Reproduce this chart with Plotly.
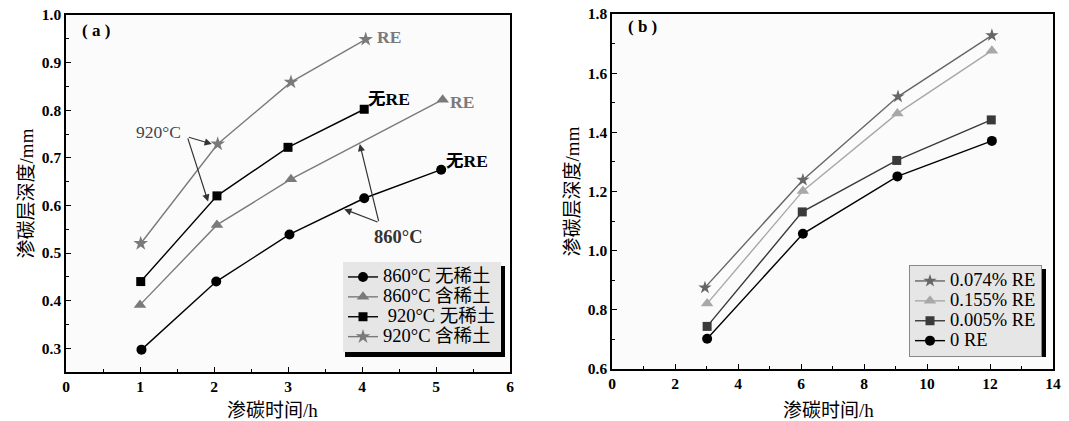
import plotly.graph_objects as go

# ---------------- Data: panel (a) ----------------
a_x_860_nore = [1.02, 2.03, 3.02, 4.03, 5.07]
a_y_860_nore = [0.297, 0.440, 0.539, 0.615, 0.675]
a_x_860_re = [1.00, 2.04, 3.04, 5.09]
a_y_860_re = [0.391, 0.559, 0.655, 0.822]
a_x_920_nore = [1.01, 2.04, 3.00, 4.03]
a_y_920_nore = [0.440, 0.620, 0.722, 0.802]
a_x_920_re = [1.01, 2.05, 3.04, 4.05]
a_y_920_re = [0.520, 0.729, 0.859, 0.949]
a_names = ["860°C 无稀土", "860°C 含稀土", " 920°C 无稀土", "920°C 含稀土"]

# ---------------- Data: panel (b) ----------------
b_x_074 = [2.95, 6.06, 9.08, 12.06]
b_y_074 = [0.875, 1.239, 1.521, 1.728]
b_x_155 = [3.02, 6.06, 9.06, 12.06]
b_y_155 = [0.821, 1.202, 1.464, 1.676]
b_x_005 = [3.02, 6.04, 9.04, 12.04]
b_y_005 = [0.744, 1.131, 1.305, 1.442]
b_x_0 = [3.02, 6.06, 9.06, 12.06]
b_y_0 = [0.702, 1.057, 1.251, 1.371]
b_names = ["0.074% RE", "0.155% RE", "0.005% RE", "0 RE"]

FONT = "Liberation Serif, Times New Roman, Noto Sans CJK SC, serif"
BLACK = "#000000"
GRAY = "#7a7a7a"

fig = go.Figure()

def big(name):
    return '<span style="font-size:18.5px">' + name + '</span>'

def add(x, y, name, color, symbol, size, xa, ya, legend):
    fig.add_trace(go.Scatter(
        x=x, y=y, name=big(name), mode="lines+markers",
        line=dict(color=color, width=1.4),
        marker=dict(color=color, symbol=symbol, size=size),
        xaxis=xa, yaxis=ya, legend=legend))

add(a_x_860_nore, a_y_860_nore, a_names[0], BLACK, "circle", 10, "x", "y", "legend")
add(a_x_860_re, a_y_860_re, a_names[1], GRAY, "triangle-up", 11, "x", "y", "legend")
add(a_x_920_nore, a_y_920_nore, a_names[2], BLACK, "square", 9, "x", "y", "legend")
add(a_x_920_re, a_y_920_re, a_names[3], GRAY, "star", 11, "x", "y", "legend")

add(b_x_074, b_y_074, b_names[0], "#666666", "star", 10, "x2", "y2", "legend2")
add(b_x_155, b_y_155, b_names[1], "#a8a8a8", "triangle-up", 11, "x2", "y2", "legend2")
add(b_x_005, b_y_005, b_names[2], "#3a3a3a", "square", 9, "x2", "y2", "legend2")
add(b_x_0, b_y_0, b_names[3], BLACK, "circle", 10, "x2", "y2", "legend2")

W, H = 1069, 421
def px(x):
    return x / W
def py(y):
    return 1 - y / H

tickfont = dict(family=FONT, size=15.5, color="#000", weight="bold")
titlefont = dict(family=FONT, size=19, color="#000")
axcommon = dict(showline=True, linecolor="#000", linewidth=1.5, mirror=True,
                ticks="inside", ticklen=5, tickwidth=1.2, tickcolor="#000",
                showgrid=False, zeroline=False, tickfont=tickfont)

fig.update_layout(
    width=W, height=H, margin=dict(l=0, r=0, t=0, b=0),
    paper_bgcolor="white", plot_bgcolor="#fbfbfb",
    font=dict(family=FONT, size=15, color="#000"),
    xaxis=dict(domain=[px(66), px(510)], range=[0, 6], dtick=1,
               minor=dict(dtick=0.5, ticks="inside", ticklen=3, tickcolor="#000"),
               anchor="y", automargin=False, **axcommon),
    yaxis=dict(domain=[py(372), py(15)], range=[0.25, 1.0], dtick=0.1, tickformat=".1f",
               minor=dict(dtick=0.05, ticks="inside", ticklen=3, tickcolor="#000"),
               title=dict(text="渗碳层深度/mm", font=titlefont, standoff=3),
               anchor="x", automargin=False, **axcommon),
    xaxis2=dict(domain=[px(612), px(1053)], range=[0, 14], dtick=2,
                minor=dict(dtick=1, ticks="inside", ticklen=3, tickcolor="#000"),
                anchor="y2", automargin=False, **axcommon),
    yaxis2=dict(domain=[py(369), py(14)], range=[0.6, 1.8], dtick=0.2, tickformat=".1f",
                minor=dict(dtick=0.1, ticks="inside", ticklen=3, tickcolor="#000"),
                title=dict(text="渗碳层深度/mm", font=titlefont, standoff=3),
                anchor="x2", automargin=False, **axcommon),
    legend=dict(x=px(501), y=py(262), xanchor="right", yanchor="top",
                bgcolor="#e6e6e6", borderwidth=0, font=dict(family=FONT, size=13),
                tracegroupgap=0, itemwidth=30),
    legend2=dict(x=px(1042), y=py(265), xanchor="right", yanchor="top",
                 bgcolor="#e6e6e6", bordercolor="#888", borderwidth=1,
                 font=dict(family=FONT, size=13), tracegroupgap=0, itemwidth=30),
    showlegend=True,
)

# legend shadows (drawn behind legends)
fig.add_shape(type="rect", xref="paper", yref="paper", x0=px(345), x1=px(505),
              y0=py(357), y1=py(266), fillcolor="#000", line=dict(width=0), layer="above")
fig.add_shape(type="rect", xref="paper", yref="paper", x0=px(910), x1=px(1046),
              y0=py(357), y1=py(269), fillcolor="#000", line=dict(width=0), layer="above")

anns = []
# x-axis titles
anns.append(dict(x=px(273), y=py(410), xref="paper", yref="paper", text="渗碳时间/h",
                 xanchor="center", yanchor="middle", showarrow=False, font=titlefont))
anns.append(dict(x=px(828), y=py(410), xref="paper", yref="paper", text="渗碳时间/h",
                 xanchor="center", yanchor="middle", showarrow=False, font=titlefont))
# panel labels
anns.append(dict(x=px(96), y=py(30), xref="paper", yref="paper", text="<b>( a )</b>",
                 xanchor="center", yanchor="middle", showarrow=False, font=dict(family=FONT, size=17)))
anns.append(dict(x=px(642), y=py(27), xref="paper", yref="paper", text="<b>( b )</b>",
                 xanchor="center", yanchor="middle", showarrow=False, font=dict(family=FONT, size=17)))
# series end labels, panel a
anns.append(dict(x=4.17, y=0.954, xref="x", yref="y", text="<b>RE</b>", xanchor="left",
                 showarrow=False, font=dict(family=FONT, size=17.5, color=GRAY)))
anns.append(dict(x=4.05, y=0.824, xref="x", yref="y", text="<b>无RE</b>", xanchor="left",
                 showarrow=False, font=dict(family=FONT, size=17.5, color="#000")))
anns.append(dict(x=5.16, y=0.817, xref="x", yref="y", text="<b>RE</b>", xanchor="left",
                 showarrow=False, font=dict(family=FONT, size=17.5, color=GRAY)))
anns.append(dict(x=5.11, y=0.693, xref="x", yref="y", text="<b>无RE</b>", xanchor="left",
                 showarrow=False, font=dict(family=FONT, size=17.5, color="#000")))
anns.append(dict(x=1.58, y=0.755, xref="x", yref="y", text="920°C", xanchor="right",
                 showarrow=False, font=dict(family=FONT, size=17.5, color="#444")))
anns.append(dict(x=4.49, y=0.533, xref="x", yref="y", text="<b>860°C</b>", xanchor="center",
                 showarrow=False, font=dict(family=FONT, size=18.5, color="#333")))
# arrows
def arrow(x0, y0, x1, y1):
    anns.append(dict(x=x1, y=y1, ax=x0, ay=y0, xref="x", yref="y", axref="x", ayref="y",
                     text="", showarrow=True, arrowhead=2, arrowsize=1.2, arrowwidth=1.2,
                     arrowcolor="#333"))
arrow(1.64, 0.744, 1.97, 0.729)
arrow(1.64, 0.744, 1.92, 0.608)
arrow(4.23, 0.564, 3.76, 0.592)
arrow(4.23, 0.564, 3.97, 0.729)

fig.update_layout(annotations=anns)
fig.write_html("out.html", config={"displayModeBar": False},
               post_script="document.body.style.margin='0px';document.body.style.overflow='hidden';")
